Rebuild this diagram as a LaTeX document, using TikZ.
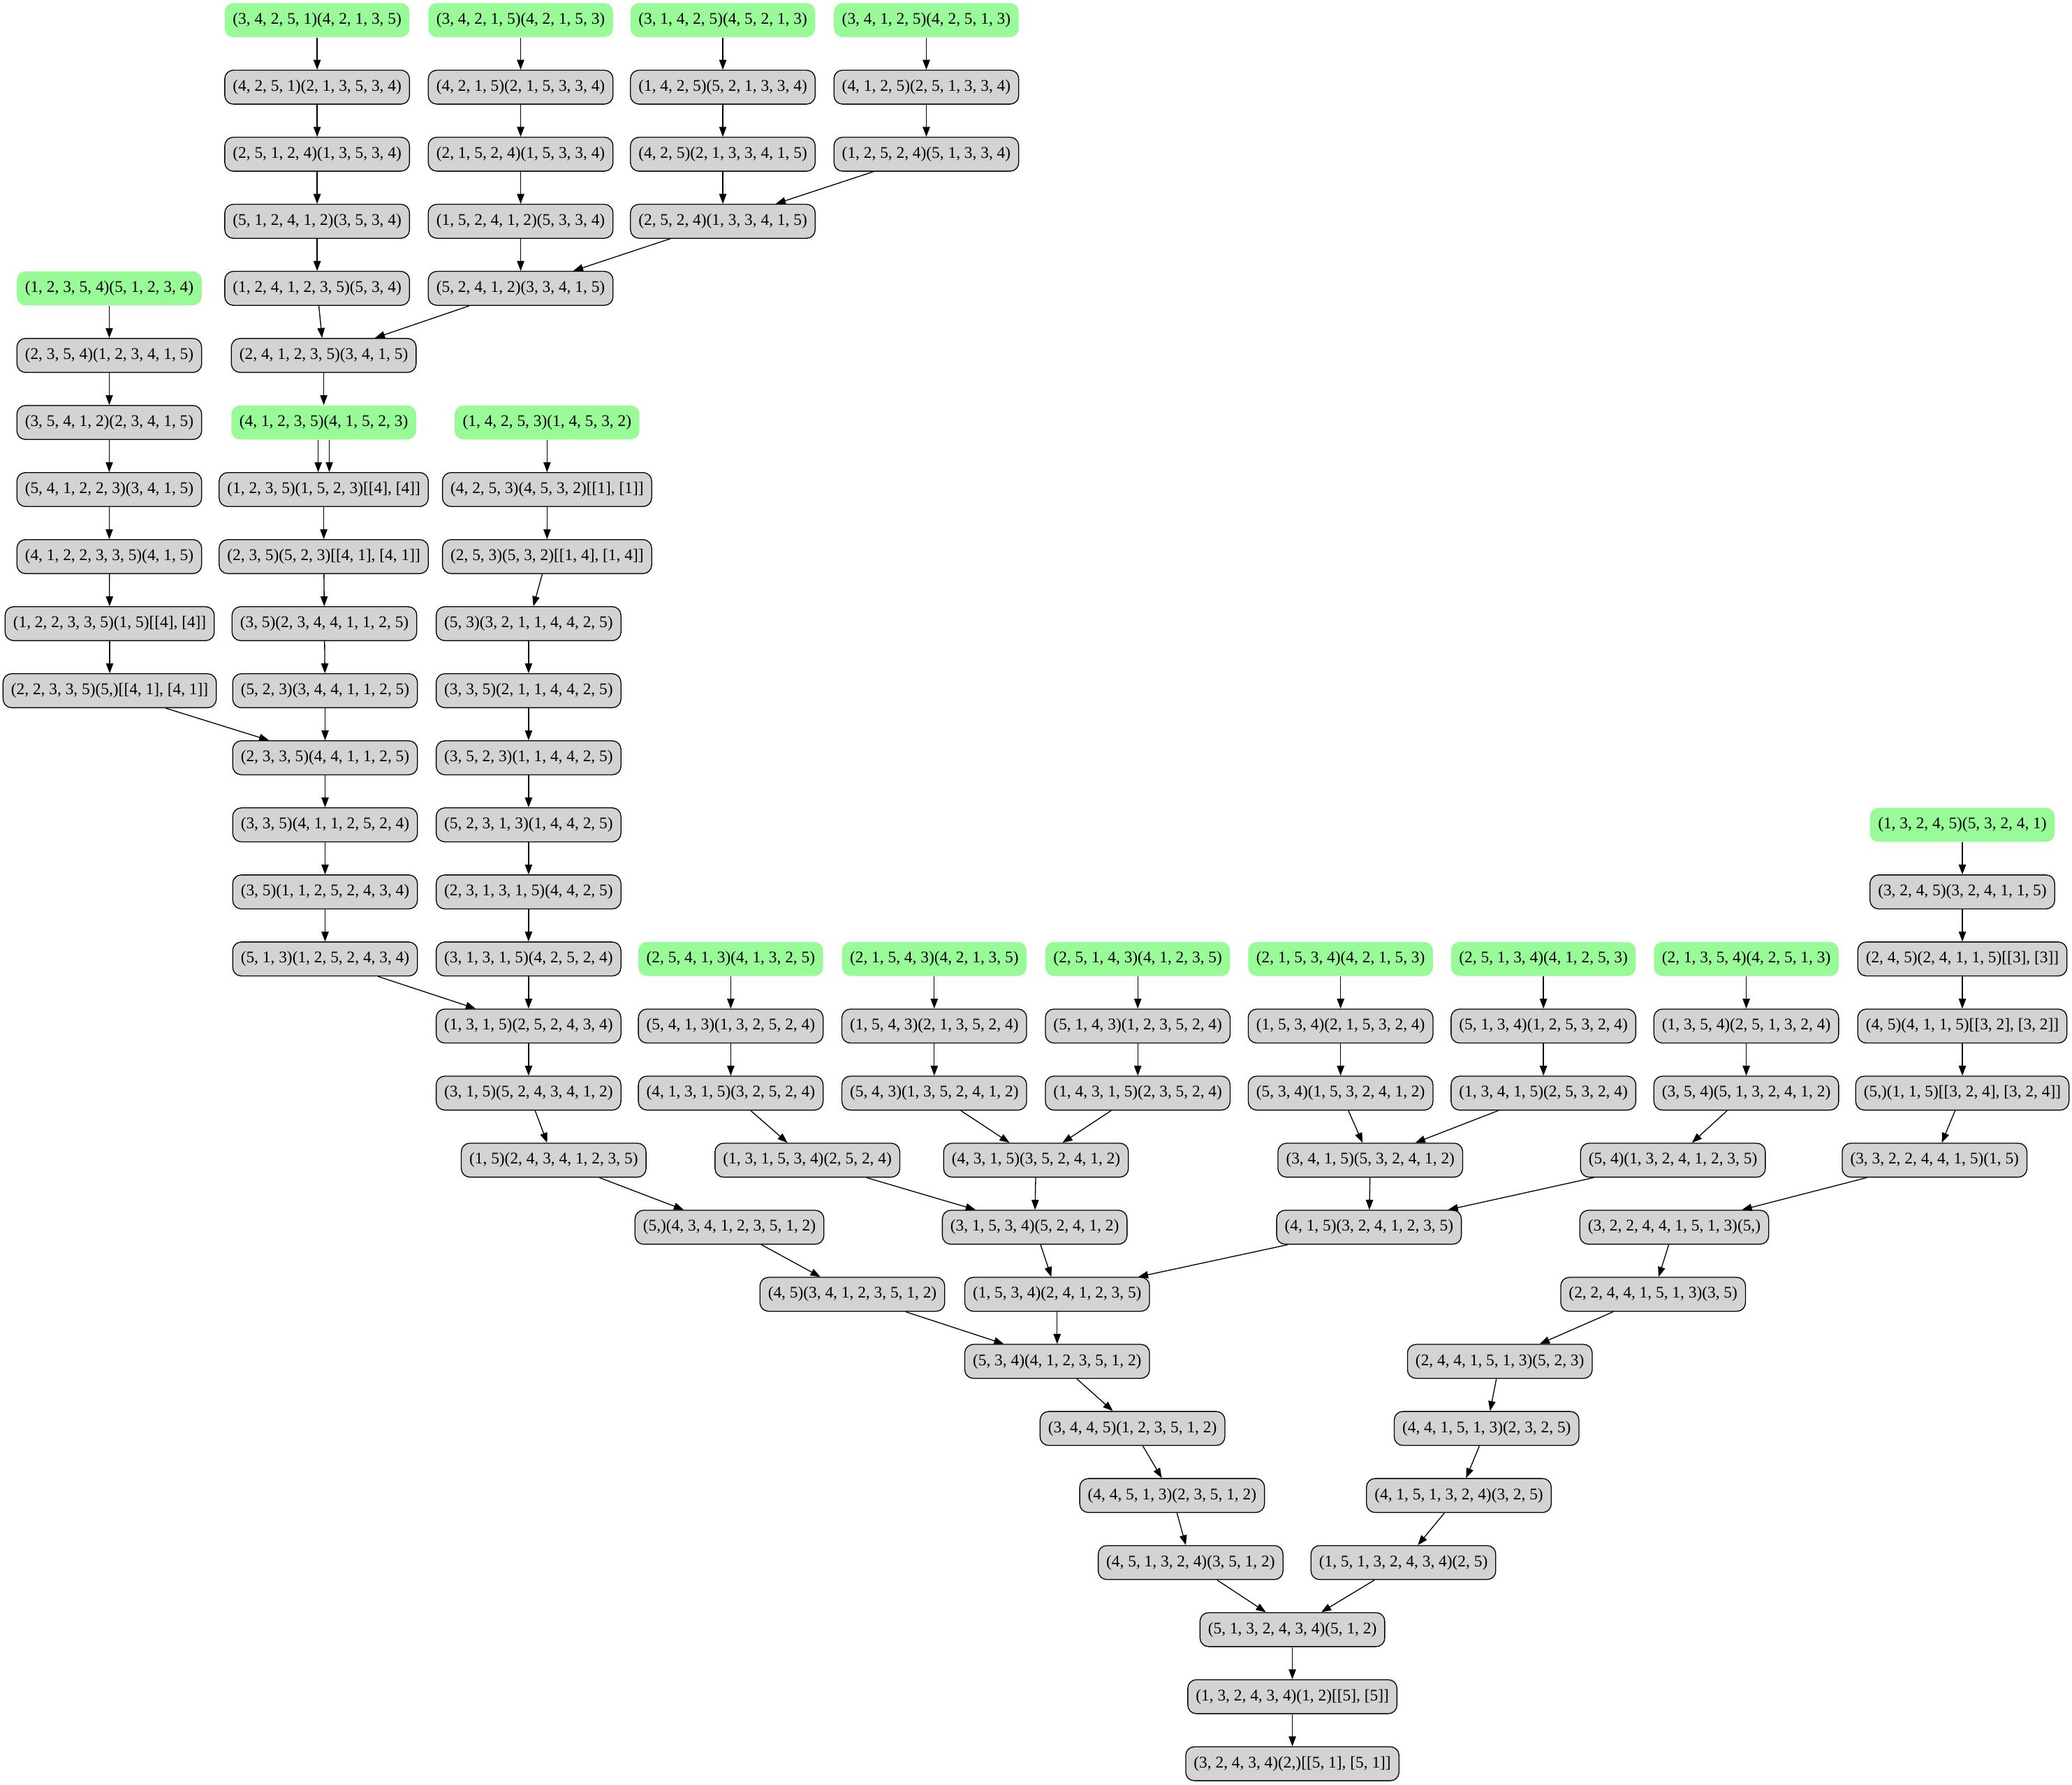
\documentclass[tikz,border=0pt]{standalone}
\usepackage{fontspec}
\setmainfont{Liberation Serif}
\usetikzlibrary{arrows.meta}
\definecolor{nodegray}{HTML}{D3D3D3}
\definecolor{nodegreen}{HTML}{98FB98}
\newcommand{\rowy}[1]{15.2+50.75*#1}
\tikzset{
  basebox/.style={rounded corners=6.5pt, minimum height=25.7pt, inner xsep=6.1pt, inner ysep=0pt,
    font=\fontsize{12.35}{14}\selectfont, line width=0.7pt},
  gbox/.style={basebox, draw=black, fill=nodegray},
  greenbox/.style={basebox, fill=nodegreen},
  edge/.style={line width=0.7pt, -{Triangle[length=7.5pt,width=5.5pt]}},
}
\begin{document}
\begin{tikzpicture}[x=1pt,y=-1pt]
\useasboundingbox (0,0) rectangle (1568,1350.27);
% top columns
\node[greenbox] (A1) at (240,{\rowy{0}}) {(3, 4, 2, 5, 1)(4, 2, 1, 3, 5)};
\node[gbox] (A2) at (240,{\rowy{1}}) {(4, 2, 5, 1)(2, 1, 3, 5, 3, 4)};
\node[gbox] (A3) at (240,{\rowy{2}}) {(2, 5, 1, 2, 4)(1, 3, 5, 3, 4)};
\node[gbox] (A4) at (240,{\rowy{3}}) {(5, 1, 2, 4, 1, 2)(3, 5, 3, 4)};
\node[gbox] (A5) at (240,{\rowy{4}}) {(1, 2, 4, 1, 2, 3, 5)(5, 3, 4)};
\node[greenbox] (B1) at (394,{\rowy{0}}) {(3, 4, 2, 1, 5)(4, 2, 1, 5, 3)};
\node[gbox] (B2) at (394,{\rowy{1}}) {(4, 2, 1, 5)(2, 1, 5, 3, 3, 4)};
\node[gbox] (B3) at (394,{\rowy{2}}) {(2, 1, 5, 2, 4)(1, 5, 3, 3, 4)};
\node[gbox] (B4) at (394,{\rowy{3}}) {(1, 5, 2, 4, 1, 2)(5, 3, 3, 4)};
\node[gbox] (B5) at (394,{\rowy{4}}) {(5, 2, 4, 1, 2)(3, 3, 4, 1, 5)};
\node[greenbox] (C1) at (547,{\rowy{0}}) {(3, 1, 4, 2, 5)(4, 5, 2, 1, 3)};
\node[gbox] (C2) at (547,{\rowy{1}}) {(1, 4, 2, 5)(5, 2, 1, 3, 3, 4)};
\node[gbox] (C3) at (547,{\rowy{2}}) {(4, 2, 5)(2, 1, 3, 3, 4, 1, 5)};
\node[gbox] (C4) at (547,{\rowy{3}}) {(2, 5, 2, 4)(1, 3, 3, 4, 1, 5)};
\node[greenbox] (D1) at (701,{\rowy{0}}) {(3, 4, 1, 2, 5)(4, 2, 5, 1, 3)};
\node[gbox] (D2) at (701,{\rowy{1}}) {(4, 1, 2, 5)(2, 5, 1, 3, 3, 4)};
\node[gbox] (D3) at (701,{\rowy{2}}) {(1, 2, 5, 2, 4)(5, 1, 3, 3, 4)};
% left column
\node[greenbox] (L1) at (82.7,{\rowy{4}}) {(1, 2, 3, 5, 4)(5, 1, 2, 3, 4)};
\node[gbox] (L2) at (82.7,{\rowy{5}}) {(2, 3, 5, 4)(1, 2, 3, 4, 1, 5)};
\node[gbox] (L3) at (82.7,{\rowy{6}}) {(3, 5, 4, 1, 2)(2, 3, 4, 1, 5)};
\node[gbox] (L4) at (82.7,{\rowy{7}}) {(5, 4, 1, 2, 2, 3)(3, 4, 1, 5)};
\node[gbox] (L5) at (82.7,{\rowy{8}}) {(4, 1, 2, 2, 3, 3, 5)(4, 1, 5)};
\node[gbox] (L6) at (83,{\rowy{9}}) {(1, 2, 2, 3, 3, 5)(1, 5)[[4], [4]]};
\node[gbox] (L7) at (83,{\rowy{10}}) {(2, 2, 3, 3, 5)(5,)[[4, 1], [4, 1]]};
% F column
\node[gbox] (E) at (245,{\rowy{5}}) {(2, 4, 1, 2, 3, 5)(3, 4, 1, 5)};
\node[greenbox] (G) at (245,{\rowy{6}}) {(4, 1, 2, 3, 5)(4, 1, 5, 2, 3)};
\node[gbox] (F1) at (245,{\rowy{7}}) {(1, 2, 3, 5)(1, 5, 2, 3)[[4], [4]]};
\node[gbox] (F2) at (245,{\rowy{8}}) {(2, 3, 5)(5, 2, 3)[[4, 1], [4, 1]]};
\node[gbox] (F3) at (245.5,{\rowy{9}}) {(3, 5)(2, 3, 4, 4, 1, 1, 2, 5)};
\node[gbox] (F4) at (246,{\rowy{10}}) {(5, 2, 3)(3, 4, 4, 1, 1, 2, 5)};
\node[gbox] (F5) at (246,{\rowy{11}}) {(2, 3, 3, 5)(4, 4, 1, 1, 2, 5)};
\node[gbox] (F6) at (246,{\rowy{12}}) {(3, 3, 5)(4, 1, 1, 2, 5, 2, 4)};
\node[gbox] (F7) at (246,{\rowy{13}}) {(3, 5)(1, 1, 2, 5, 2, 4, 3, 4)};
\node[gbox] (F8) at (246,{\rowy{14}}) {(5, 1, 3)(1, 2, 5, 2, 4, 3, 4)};
% H column
\node[greenbox] (H1) at (414,{\rowy{6}}) {(1, 4, 2, 5, 3)(1, 4, 5, 3, 2)};
\node[gbox] (H2) at (414,{\rowy{7}}) {(4, 2, 5, 3)(4, 5, 3, 2)[[1], [1]]};
\node[gbox] (H3) at (414,{\rowy{8}}) {(2, 5, 3)(5, 3, 2)[[1, 4], [1, 4]]};
\node[gbox] (H4) at (400,{\rowy{9}}) {(5, 3)(3, 2, 1, 1, 4, 4, 2, 5)};
\node[gbox] (H5) at (400,{\rowy{10}}) {(3, 3, 5)(2, 1, 1, 4, 4, 2, 5)};
\node[gbox] (H6) at (400,{\rowy{11}}) {(3, 5, 2, 3)(1, 1, 4, 4, 2, 5)};
\node[gbox] (H7) at (400,{\rowy{12}}) {(5, 2, 3, 1, 3)(1, 4, 4, 2, 5)};
\node[gbox] (H8) at (400,{\rowy{13}}) {(2, 3, 1, 3, 1, 5)(4, 4, 2, 5)};
\node[gbox] (H9) at (400,{\rowy{14}}) {(3, 1, 3, 1, 5)(4, 2, 5, 2, 4)};
\node[gbox] (H10) at (400,{\rowy{15}}) {(1, 3, 1, 5)(2, 5, 2, 4, 3, 4)};
\node[gbox] (H11) at (400,{\rowy{16}}) {(3, 1, 5)(5, 2, 4, 3, 4, 1, 2)};
\node[gbox] (H12) at (419,{\rowy{17}}) {(1, 5)(2, 4, 3, 4, 1, 2, 3, 5)};
% green row
\node[greenbox] (G1) at (553,{\rowy{14}}) {(2, 5, 4, 1, 3)(4, 1, 3, 2, 5)};
\node[greenbox] (G2) at (707,{\rowy{14}}) {(2, 1, 5, 4, 3)(4, 2, 1, 3, 5)};
\node[greenbox] (G3) at (861,{\rowy{14}}) {(2, 5, 1, 4, 3)(4, 1, 2, 3, 5)};
\node[greenbox] (G4) at (1014.5,{\rowy{14}}) {(2, 1, 5, 3, 4)(4, 2, 1, 5, 3)};
\node[greenbox] (G5) at (1168,{\rowy{14}}) {(2, 5, 1, 3, 4)(4, 1, 2, 5, 3)};
\node[greenbox] (G6) at (1321.5,{\rowy{14}}) {(2, 1, 3, 5, 4)(4, 2, 5, 1, 3)};
\node[gbox] (M1) at (553,{\rowy{15}}) {(5, 4, 1, 3)(1, 3, 2, 5, 2, 4)};
\node[gbox] (M2) at (707,{\rowy{15}}) {(1, 5, 4, 3)(2, 1, 3, 5, 2, 4)};
\node[gbox] (M3) at (861,{\rowy{15}}) {(5, 1, 4, 3)(1, 2, 3, 5, 2, 4)};
\node[gbox] (M4) at (1014.5,{\rowy{15}}) {(1, 5, 3, 4)(2, 1, 5, 3, 2, 4)};
\node[gbox] (M5) at (1168,{\rowy{15}}) {(5, 1, 3, 4)(1, 2, 5, 3, 2, 4)};
\node[gbox] (M6) at (1321.5,{\rowy{15}}) {(1, 3, 5, 4)(2, 5, 1, 3, 2, 4)};
\node[gbox] (N1) at (553,{\rowy{16}}) {(4, 1, 3, 1, 5)(3, 2, 5, 2, 4)};
\node[gbox] (N2) at (707,{\rowy{16}}) {(5, 4, 3)(1, 3, 5, 2, 4, 1, 2)};
\node[gbox] (N3) at (861,{\rowy{16}}) {(1, 4, 3, 1, 5)(2, 3, 5, 2, 4)};
\node[gbox] (N4) at (1014.5,{\rowy{16}}) {(5, 3, 4)(1, 5, 3, 2, 4, 1, 2)};
\node[gbox] (N5) at (1168,{\rowy{16}}) {(1, 3, 4, 1, 5)(2, 5, 3, 2, 4)};
\node[gbox] (N6) at (1321.5,{\rowy{16}}) {(3, 5, 4)(5, 1, 3, 2, 4, 1, 2)};
% right column
\node[greenbox] (R1) at (1485,{\rowy{12}}) {(1, 3, 2, 4, 5)(5, 3, 2, 4, 1)};
\node[gbox] (R2) at (1485,{\rowy{13}}) {(3, 2, 4, 5)(3, 2, 4, 1, 1, 5)};
\node[gbox] (R3) at (1485,{\rowy{14}}) {(2, 4, 5)(2, 4, 1, 1, 5)[[3], [3]]};
\node[gbox] (R4) at (1485,{\rowy{15}}) {(4, 5)(4, 1, 1, 5)[[3, 2], [3, 2]]};
\node[gbox] (R5) at (1485,{\rowy{16}}) {(5,)(1, 1, 5)[[3, 2, 4], [3, 2, 4]]};
\node[gbox] (R6) at (1464,{\rowy{17}}) {(3, 3, 2, 2, 4, 4, 1, 5)(1, 5)};
% lower part
\node[gbox] (P1) at (611,{\rowy{17}}) {(1, 3, 1, 5, 3, 4)(2, 5, 2, 4)};
\node[gbox] (P2) at (784,{\rowy{17}}) {(4, 3, 1, 5)(3, 5, 2, 4, 1, 2)};
\node[gbox] (P3) at (1037,{\rowy{17}}) {(3, 4, 1, 5)(5, 3, 2, 4, 1, 2)};
\node[gbox] (P4) at (1266,{\rowy{17}}) {(5, 4)(1, 3, 2, 4, 1, 2, 3, 5)};
\node[gbox] (Q1) at (552,{\rowy{18}}) {(5,)(4, 3, 4, 1, 2, 3, 5, 1, 2)};
\node[gbox] (Q2) at (783,{\rowy{18}}) {(3, 1, 5, 3, 4)(5, 2, 4, 1, 2)};
\node[gbox] (Q3) at (1036,{\rowy{18}}) {(4, 1, 5)(3, 2, 4, 1, 2, 3, 5)};
\node[gbox] (Q4) at (1267,{\rowy{18}}) {(3, 2, 2, 4, 4, 1, 5, 1, 3)(5,)};
\node[gbox] (S1) at (645,{\rowy{19}}) {(4, 5)(3, 4, 1, 2, 3, 5, 1, 2)};
\node[gbox] (S2) at (800,{\rowy{19}}) {(1, 5, 3, 4)(2, 4, 1, 2, 3, 5)};
\node[gbox] (S3) at (1251,{\rowy{19}}) {(2, 2, 4, 4, 1, 5, 1, 3)(3, 5)};
\node[gbox] (T1) at (800,{\rowy{20}}) {(5, 3, 4)(4, 1, 2, 3, 5, 1, 2)};
\node[gbox] (T2) at (1135,{\rowy{20}}) {(2, 4, 4, 1, 5, 1, 3)(5, 2, 3)};
\node[gbox] (U1) at (857,{\rowy{21}}) {(3, 4, 4, 5)(1, 2, 3, 5, 1, 2)};
\node[gbox] (U2) at (1125,{\rowy{21}}) {(4, 4, 1, 5, 1, 3)(2, 3, 2, 5)};
\node[gbox] (V1) at (887,{\rowy{22}}) {(4, 4, 5, 1, 3)(2, 3, 5, 1, 2)};
\node[gbox] (V2) at (1104,{\rowy{22}}) {(4, 1, 5, 1, 3, 2, 4)(3, 2, 5)};
\node[gbox] (W1) at (901,{\rowy{23}}) {(4, 5, 1, 3, 2, 4)(3, 5, 1, 2)};
\node[gbox] (W2) at (1062,{\rowy{23}}) {(1, 5, 1, 3, 2, 4, 3, 4)(2, 5)};
\node[gbox] (X) at (978,{\rowy{24}}) {(5, 1, 3, 2, 4, 3, 4)(5, 1, 2)};
\node[gbox] (Y) at (978,{\rowy{25}}) {(1, 3, 2, 4, 3, 4)(1, 2)[[5], [5]]};
\node[gbox] (Z) at (978,{\rowy{26}}) {(3, 2, 4, 3, 4)(2,)[[5, 1], [5, 1]]};
% edges
\foreach \a/\b in {A1/A2,A2/A3,A3/A4,A4/A5,A5/E,
  B1/B2,B2/B3,B3/B4,B4/B5,B5/E,
  C1/C2,C2/C3,C3/C4,C4/B5,
  D1/D2,D2/D3,D3/C4,
  E/G,
  L1/L2,L2/L3,L3/L4,L4/L5,L5/L6,L6/L7,L7/F5,
  F1/F2,F2/F3,F3/F4,F4/F5,F5/F6,F6/F7,F7/F8,F8/H10,
  H1/H2,H2/H3,H3/H4,H4/H5,H5/H6,H6/H7,H7/H8,H8/H9,H9/H10,H10/H11,H11/H12,H12/Q1,
  G1/M1,M1/N1,N1/P1,P1/Q2,
  G2/M2,M2/N2,N2/P2,G3/M3,M3/N3,N3/P2,P2/Q2,
  G4/M4,M4/N4,N4/P3,G5/M5,M5/N5,N5/P3,P3/Q3,
  G6/M6,M6/N6,N6/P4,P4/Q3,
  R1/R2,R2/R3,R3/R4,R4/R5,R5/R6,R6/Q4,
  Q1/S1,Q2/S2,Q3/S2,Q4/S3,
  S1/T1,S2/T1,S3/T2,
  T1/U1,U1/V1,V1/W1,W1/X,
  T2/U2,U2/V2,V2/W2,W2/X,
  X/Y,Y/Z}
  {\draw[edge] (\a) -- (\b);}
\draw[edge] ([xshift=-4.2pt]G.south) -- ([xshift=-4.2pt]F1.north);
\draw[edge] ([xshift=4.2pt]G.south) -- ([xshift=4.2pt]F1.north);
\end{tikzpicture}
\end{document}
